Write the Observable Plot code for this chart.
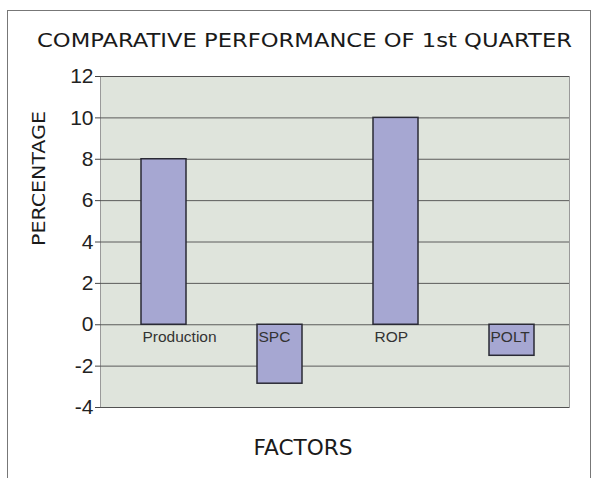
<!DOCTYPE html>
<html>
<head>
<meta charset="utf-8">
<script src="https://cdn.jsdelivr.net/npm/d3@7"></script>
<script src="https://cdn.jsdelivr.net/npm/@observablehq/plot@0.6"></script>
<style>
  html, body { margin: 0; padding: 0; background: #fff; }
  #wrap { position: relative; width: 595px; height: 478px; overflow: hidden; }
  #frame { position: absolute; left: 7px; top: 10px; width: 584px; height: 480px; border: 1.5px solid #777; box-sizing: border-box; }
  #chart { position: absolute; left: 0; top: 0; }
</style>
</head>
<body>
<div id="wrap"><div id="frame"></div><div id="chart"></div></div>
<script>
const categories = ["Production", "SPC", "ROP", "POLT"];
const values = [8, -2.85, 10, -1.5];
const yTicks = [-4, -2, 0, 2, 4, 6, 8, 10, 12];
const title = "COMPARATIVE PERFORMANCE OF 1st QUARTER";
const xLabel = "FACTORS";
const yLabel = "PERCENTAGE";

const data = categories.map((c, i) => ({ factor: c, value: values[i] }));
const fmt = d => d < 0 ? "-" + Math.abs(d) : String(d);

const chart = Plot.plot({
  width: 595,
  height: 478,
  marginTop: 76,
  marginBottom: 71,
  marginLeft: 100,
  marginRight: 26,
  style: { background: "transparent", fontFamily: "Liberation Sans, Arial, sans-serif" },
  x: { domain: categories, paddingInner: 0.615, paddingOuter: 0.312, align: 0.534, axis: null },
  y: { domain: [-4, 12], ticks: yTicks, label: null, axis: null },
  marks: [
    Plot.frame({ fill: "#dfe4dc", stroke: "#9a9a9a" }),
    Plot.gridY(yTicks, { stroke: "#444", strokeOpacity: 0.85, strokeWidth: 1 }),
    Plot.axisY({ ticks: yTicks, tickSize: 5, tickPadding: 2, fontSize: 21, stroke: "#444", color: "#222", label: null, tickFormat: fmt }),
    Plot.barY(data, { x: "factor", y: "value", fill: "#a6a7d2", stroke: "#2a2a35", strokeWidth: 1.5 }),
    Plot.text(data, { x: "factor", y: 0, text: "factor", textAnchor: "start", dx: -21.5, dy: 12, fontSize: 15.5, fill: "#333" }),
    Plot.text([title], { frameAnchor: "top", dx: -30.5, dy: -43, fontSize: 19.5, fill: "#1a1a1a", fontFamily: "DejaVu Sans" }),
    Plot.text([xLabel], { frameAnchor: "bottom", dx: -32, dy: 47.5, fontSize: 20.5, fill: "#1a1a1a", fontFamily: "DejaVu Sans" }),
    Plot.text([yLabel], { frameAnchor: "left", dx: -61.5, dy: 4, rotate: -90, fontSize: 18, fill: "#1a1a1a", fontFamily: "DejaVu Sans" })
  ]
});
const lengths = { [title]: 535, [xLabel]: 99, [yLabel]: 135 };
chart.querySelectorAll("text").forEach(t => {
  const L = lengths[t.textContent];
  if (L) {
    t.setAttribute("textLength", L);
    t.setAttribute("lengthAdjust", "spacingAndGlyphs");
  }
});
document.getElementById("chart").appendChild(chart);
</script>
</body>
</html>
